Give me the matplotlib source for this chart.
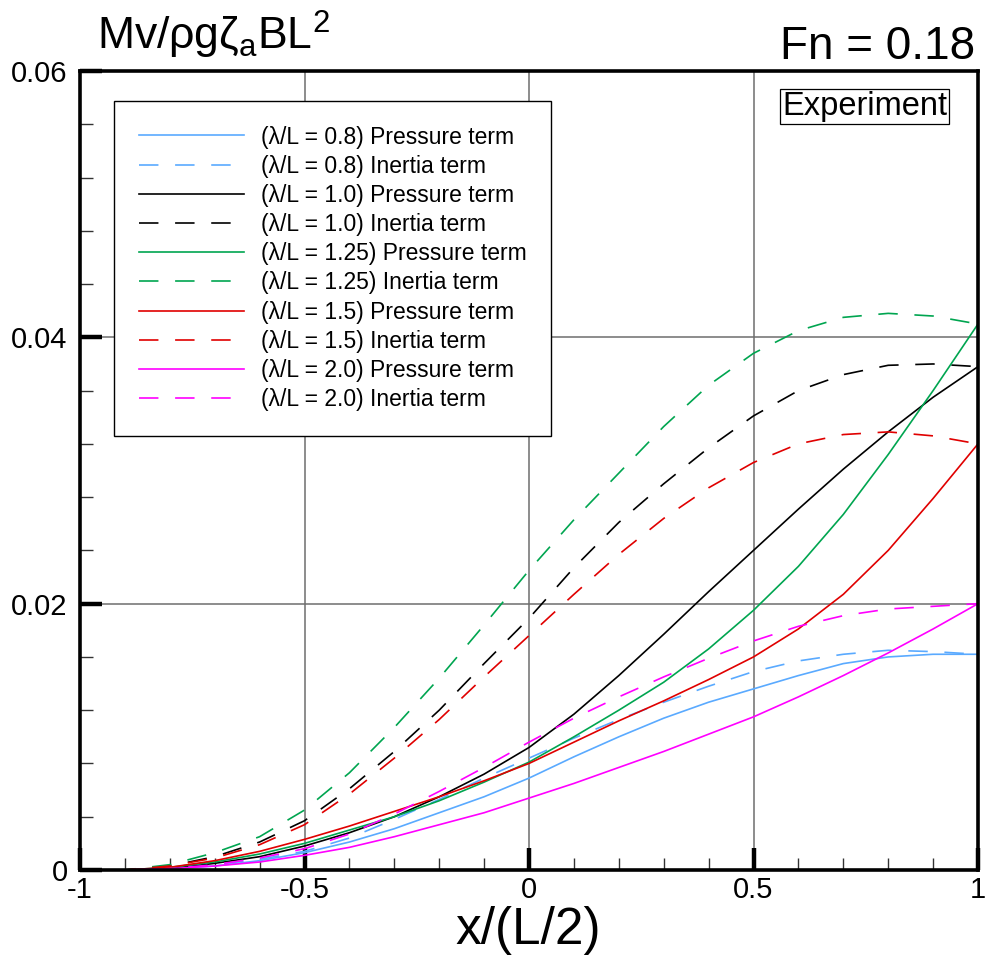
import matplotlib
matplotlib.use("Agg")
import matplotlib.pyplot as plt
from matplotlib.ticker import MultipleLocator, FixedLocator

plt.rcParams['font.family'] = ['Liberation Sans', 'DejaVu Sans']
plt.rcParams['mathtext.fontset'] = 'custom'
plt.rcParams['mathtext.rm'] = 'Liberation Sans'
plt.rcParams['mathtext.it'] = 'Liberation Sans'
plt.rcParams['axes.unicode_minus'] = False
plt.rcParams['lines.scale_dashes'] = False

# ---------------- data ----------------
x = [-1.0, -0.9, -0.8, -0.7, -0.6, -0.5, -0.4, -0.3, -0.2, -0.1, 0.0,
     0.1, 0.2, 0.3, 0.4, 0.5, 0.6, 0.7, 0.8, 0.9, 1.0]

p08 = [0, 0, 0.0001, 0.0003, 0.0007, 0.0013, 0.0021, 0.0031, 0.0043, 0.0055, 0.0069,
       0.0085, 0.0100, 0.0114, 0.0126, 0.0136, 0.0146, 0.0155, 0.0160, 0.0162, 0.0162]
i08 = [0, 0, 0.0001, 0.0004, 0.0008, 0.0014, 0.0024, 0.0038, 0.0053, 0.0069, 0.0084,
       0.0099, 0.0113, 0.0126, 0.0138, 0.0149, 0.0157, 0.0162, 0.0165, 0.0164, 0.0162]
p10 = [0, 0, 0.0001, 0.0005, 0.0010, 0.0018, 0.0028, 0.0040, 0.0055, 0.0072, 0.0092,
       0.0117, 0.0146, 0.0177, 0.0209, 0.0240, 0.0271, 0.0301, 0.0329, 0.0355, 0.0378]
i10 = [0, 0, 0.0003, 0.0010, 0.0021, 0.0037, 0.0061, 0.0089, 0.0120, 0.0155, 0.0189,
       0.0227, 0.0261, 0.0290, 0.0317, 0.0341, 0.0360, 0.0372, 0.0379, 0.0380, 0.0378]
p125 = [0, 0, 0.0002, 0.0006, 0.0012, 0.0020, 0.0030, 0.0040, 0.0052, 0.0066, 0.0081,
        0.0100, 0.0120, 0.0141, 0.0166, 0.0195, 0.0228, 0.0267, 0.0312, 0.0360, 0.0410]
i125 = [0, 0, 0.0004, 0.0013, 0.0025, 0.0045, 0.0073, 0.0107, 0.0144, 0.0184, 0.0225,
        0.0263, 0.0298, 0.0333, 0.0364, 0.0388, 0.0405, 0.0415, 0.0418, 0.0416, 0.0410]
p15 = [0, 0, 0.0002, 0.0007, 0.0014, 0.0023, 0.0033, 0.0044, 0.0055, 0.0067, 0.0080,
       0.0096, 0.0112, 0.0127, 0.0143, 0.0160, 0.0181, 0.0207, 0.0240, 0.0279, 0.0320]
i15 = [0, 0, 0.0003, 0.0009, 0.0019, 0.0034, 0.0057, 0.0084, 0.0113, 0.0145, 0.0176,
       0.0207, 0.0237, 0.0264, 0.0287, 0.0306, 0.0320, 0.0327, 0.0329, 0.0326, 0.0320]
p20 = [0, 0, 0.0001, 0.0003, 0.0006, 0.0011, 0.0017, 0.0025, 0.0034, 0.0043, 0.0054,
       0.0065, 0.0077, 0.0089, 0.0102, 0.0115, 0.0130, 0.0146, 0.0163, 0.0181, 0.0200]
i20 = [0, 0, 0.0001, 0.0004, 0.0009, 0.0016, 0.0027, 0.0042, 0.0059, 0.0077, 0.0096,
       0.0114, 0.0130, 0.0145, 0.0159, 0.0172, 0.0183, 0.0191, 0.0196, 0.0198, 0.0200]

ratios = ["0.8", "1.0", "1.25", "1.5", "2.0"]
colors = ["#5aaaff", "#000000", "#00a550", "#e00000", "#ff00ff"]
pressure = [p08, p10, p125, p15, p20]
inertia = [i08, i10, i125, i15, i20]

xticks = [-1, -0.5, 0, 0.5, 1]
xticklabels = ["-1", "-0.5", "0", "0.5", "1"]
yticks = [0, 0.02, 0.04, 0.06]
yticklabels = ["0", "0.02", "0.04", "0.06"]

# ---------------- figure ----------------
W, H = 988, 956
fig = plt.figure(figsize=(W / 100, H / 100), dpi=100)
ax = fig.add_axes([80 / W, 1 - 870 / H, (978 - 80) / W, (870 - 71) / H])

for v in [-0.5, 0, 0.5]:
    ax.axvline(v, color="#6e6e6e", lw=1.1, zorder=1)
for v in [0.02, 0.04]:
    ax.axhline(v, color="#6e6e6e", lw=1.1, zorder=1)

handles = []
for r, c, p, i in zip(ratios, colors, pressure, inertia):
    h1, = ax.plot(x, p, color=c, lw=1.2, zorder=3,
                  label=f"(λ/L = {r}) Pressure term")
    h2, = ax.plot(x, i, color=c, lw=1.2, zorder=3, dashes=(14, 12),
                  label=f"(λ/L = {r}) Inertia term")
    handles += [h1, h2]

ax.set_xlim(-1, 1)
ax.set_ylim(0, 0.06)
ax.xaxis.set_major_locator(FixedLocator(xticks))
ax.set_xticklabels(xticklabels)
ax.yaxis.set_major_locator(FixedLocator(yticks))
ax.set_yticklabels(yticklabels)
ax.xaxis.set_minor_locator(MultipleLocator(0.1))
ax.yaxis.set_minor_locator(MultipleLocator(0.004))

ax.tick_params(which="major", direction="in", length=16, width=3.2,
               labelsize=21, top=False, right=False, color="black")
ax.tick_params(axis="x", which="major", pad=4)
ax.tick_params(axis="y", which="major", pad=9)
ax.tick_params(which="minor", direction="in", length=9, width=1.0,
               top=False, right=False, color="#333333")

for s in ax.spines.values():
    s.set_linewidth(2.6)
    s.set_zorder(5)

leg = ax.legend(handles=handles, loc="upper left",
                bbox_to_anchor=((114 - 80) / 898, (870 - 101) / 799),
                fontsize=16.5, frameon=True, fancybox=False, framealpha=1,
                edgecolor="black", handlelength=4.6, handletextpad=0.75,
                labelspacing=0.27, borderpad=1.07, borderaxespad=0)
leg.get_frame().set_linewidth(1.0)
leg.set_zorder(4)

ax.text(0.8736, 0.9556, "Experiment", transform=ax.transAxes,
        ha="center", va="center", fontsize=23.5,
        bbox=dict(boxstyle="square,pad=0.06", fc="white", ec="black", lw=0.9),
        zorder=6)

fig.text(97 / W, 1 - 50 / H, "Mv/ρgζ$_\\mathrm{a}$BL$^\\mathrm{2}$",
         fontsize=32, ha="left", va="baseline")
fig.text(975 / W, 1 - 59 / H, "Fn = 0.18", fontsize=33, ha="right", va="baseline")
fig.text(528 / W, 1 - 944 / H, "x/(L/2)", fontsize=37, ha="center", va="baseline")

fig.savefig("out.png", dpi=100)
